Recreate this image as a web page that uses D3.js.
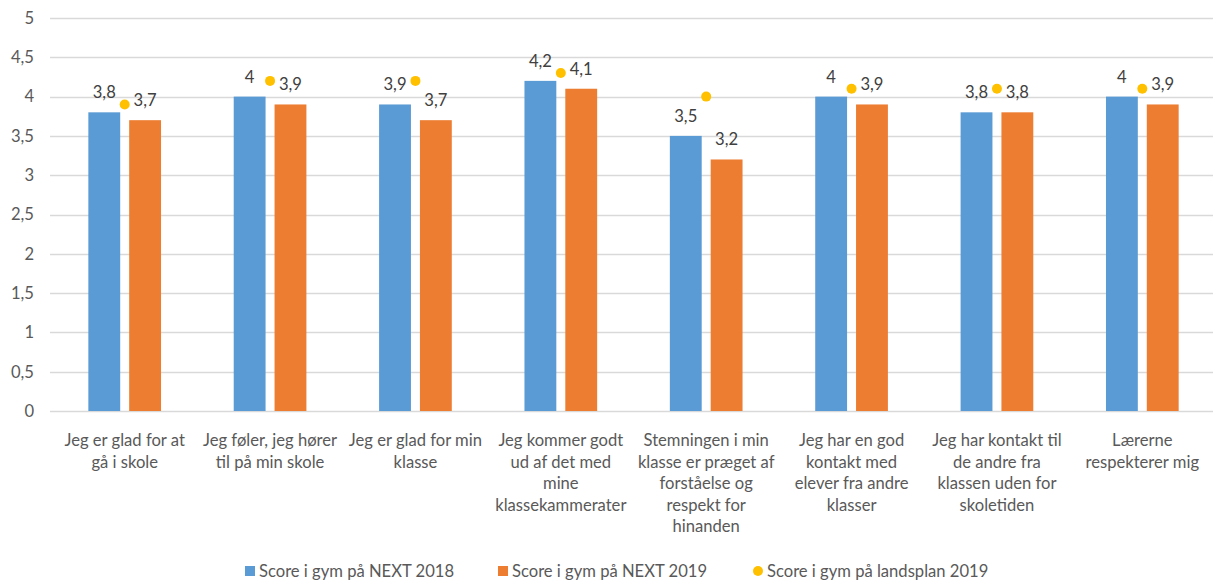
<!DOCTYPE html>
<html>
<head>
<meta charset="utf-8">
<script src="https://cdn.jsdelivr.net/npm/d3@7"></script>
<style>
  body { margin: 0; background: #fff; }
  text { font-family: Lato, "Open Sans", sans-serif; }
</style>
</head>
<body>
<div id="chart"></div>
<script>
'use strict';

// category labels, already split into lines like the original
const categories = [
    ["Jeg er glad for at", "gå i skole"],
    ["Jeg føler, jeg hører", "til på min skole"],
    ["Jeg er glad for min", "klasse"],
    ["Jeg kommer godt", "ud af det med", "mine", "klassekammerater"],
    ["Stemningen i min", "klasse er præget af", "forståelse og", "respekt for", "hinanden"],
    ["Jeg har en god", "kontakt med", "elever fra andre", "klasser"],
    ["Jeg har kontakt til", "de andre fra", "klassen uden for", "skoletiden"],
    ["Lærerne", "respekterer mig"]];

const seriesNames = [
    "Score i gym på NEXT 2018",
    "Score i gym på NEXT 2019",
    "Score i gym på landsplan 2019"];

const next2018 = [3.8, 4.0, 3.9, 4.2, 3.5, 4.0, 3.8, 4.0];
const next2019 = [3.7, 3.9, 3.7, 4.1, 3.2, 3.9, 3.8, 3.9];
const landsplan2019 = [3.9, 4.2, 4.2, 4.3, 4.0, 4.1, 4.1, 4.1];

const yTicks = [0, 0.5, 1, 1.5, 2, 2.5, 3, 3.5, 4, 4.5, 5];

const colors = ["#5B9BD5", "#ED7D31", "#FFC000"];

const width = 1213, height = 582;
const fontSize = 16.6;
const fmt = v => String(v).replace(".", ",");

const svg = d3.select("#chart").append("svg")
    .attr("width", width)
    .attr("height", height);

let idx = d3.range(categories.length);

let x0 = d3.scaleBand()
    .domain(idx)
    .range([52, 1215])
    .paddingInner(0.5)
    .paddingOuter(0.25);

let x1 = d3.scaleBand()
    .domain([0, 1])
    .range([0, x0.bandwidth()])
    .paddingInner(0.22);

let y = d3.scaleLinear()
    .domain([0, 5])
    .range([411, 18]);

// gridlines
svg.append("g")
    .selectAll("line")
    .data(yTicks)
    .enter()
    .append("line")
    .attr("x1", 50)
    .attr("x2", width)
    .attr("y1", d => Math.round(y(d)) + 0.5)
    .attr("y2", d => Math.round(y(d)) + 0.5)
    .style("stroke", "#D9D9D9")
    .style("stroke-width", 1.5);

// y axis labels
svg.append("g")
    .selectAll("text")
    .data(yTicks)
    .enter()
    .append("text")
    .attr("x", 34)
    .attr("y", d => y(d))
    .attr("dy", "0.35em")
    .attr("text-anchor", "end")
    .attr("font-size", fontSize)
    .style("fill", "#595959")
    .text(d => fmt(d));

// bars
let barSeries = [next2018, next2019];
barSeries.forEach((values, s) => {
    let g = svg.append("g");
    g.selectAll("rect")
        .data(values)
        .enter()
        .append("rect")
        .attr("x", (d, i) => x0(i) + x1(s))
        .attr("y", d => y(d))
        .attr("width", x1.bandwidth())
        .attr("height", d => y(0) - y(d))
        .style("fill", colors[s]);
    g.selectAll("text")
        .data(values)
        .enter()
        .append("text")
        .attr("x", (d, i) => x0(i) + x1(s) + x1.bandwidth() / 2)
        .attr("y", d => y(d) - 14)
        .attr("text-anchor", "middle")
        .attr("font-size", fontSize)
        .style("fill", "#404040")
        .text(d => fmt(d));
});

// landsplan dots
svg.append("g")
    .selectAll("circle")
    .data(landsplan2019)
    .enter()
    .append("circle")
    .attr("cx", (d, i) => x0(i) + x0.bandwidth() / 2)
    .attr("cy", d => y(d))
    .attr("r", 5)
    .style("fill", colors[2]);

// category labels
let catLabels = svg.append("g")
    .selectAll("text")
    .data(categories)
    .enter()
    .append("text")
    .attr("text-anchor", "middle")
    .attr("font-size", fontSize)
    .style("fill", "#595959");
catLabels.selectAll("tspan")
    .data((d, i) => d.map(line => ({line: line, i: i})))
    .enter()
    .append("tspan")
    .attr("x", d => x0(d.i) + x0.bandwidth() / 2)
    .attr("y", (d, j) => 446 + j * 21.5)
    .text(d => d.line);

// legend
let legendX = [245, 498, 753];
let legend = svg.append("g")
    .selectAll("g")
    .data(seriesNames)
    .enter()
    .append("g")
    .attr("transform", (d, i) => "translate(" + legendX[i] + ",571)");
legend.each(function(d, i) {
    let item = d3.select(this);
    if (i < 2) {
        item.append("rect")
            .attr("x", 0).attr("y", -5)
            .attr("width", 10).attr("height", 10)
            .style("fill", colors[i]);
    } else {
        item.append("circle")
            .attr("cx", 5).attr("cy", 0)
            .attr("r", 5)
            .style("fill", colors[i]);
    }
    item.append("text")
        .attr("x", 14)
        .attr("y", 0)
        .attr("dy", "0.35em")
        .attr("font-size", fontSize)
        .style("fill", "#595959")
        .text(d);
});
</script>
</body>
</html>
